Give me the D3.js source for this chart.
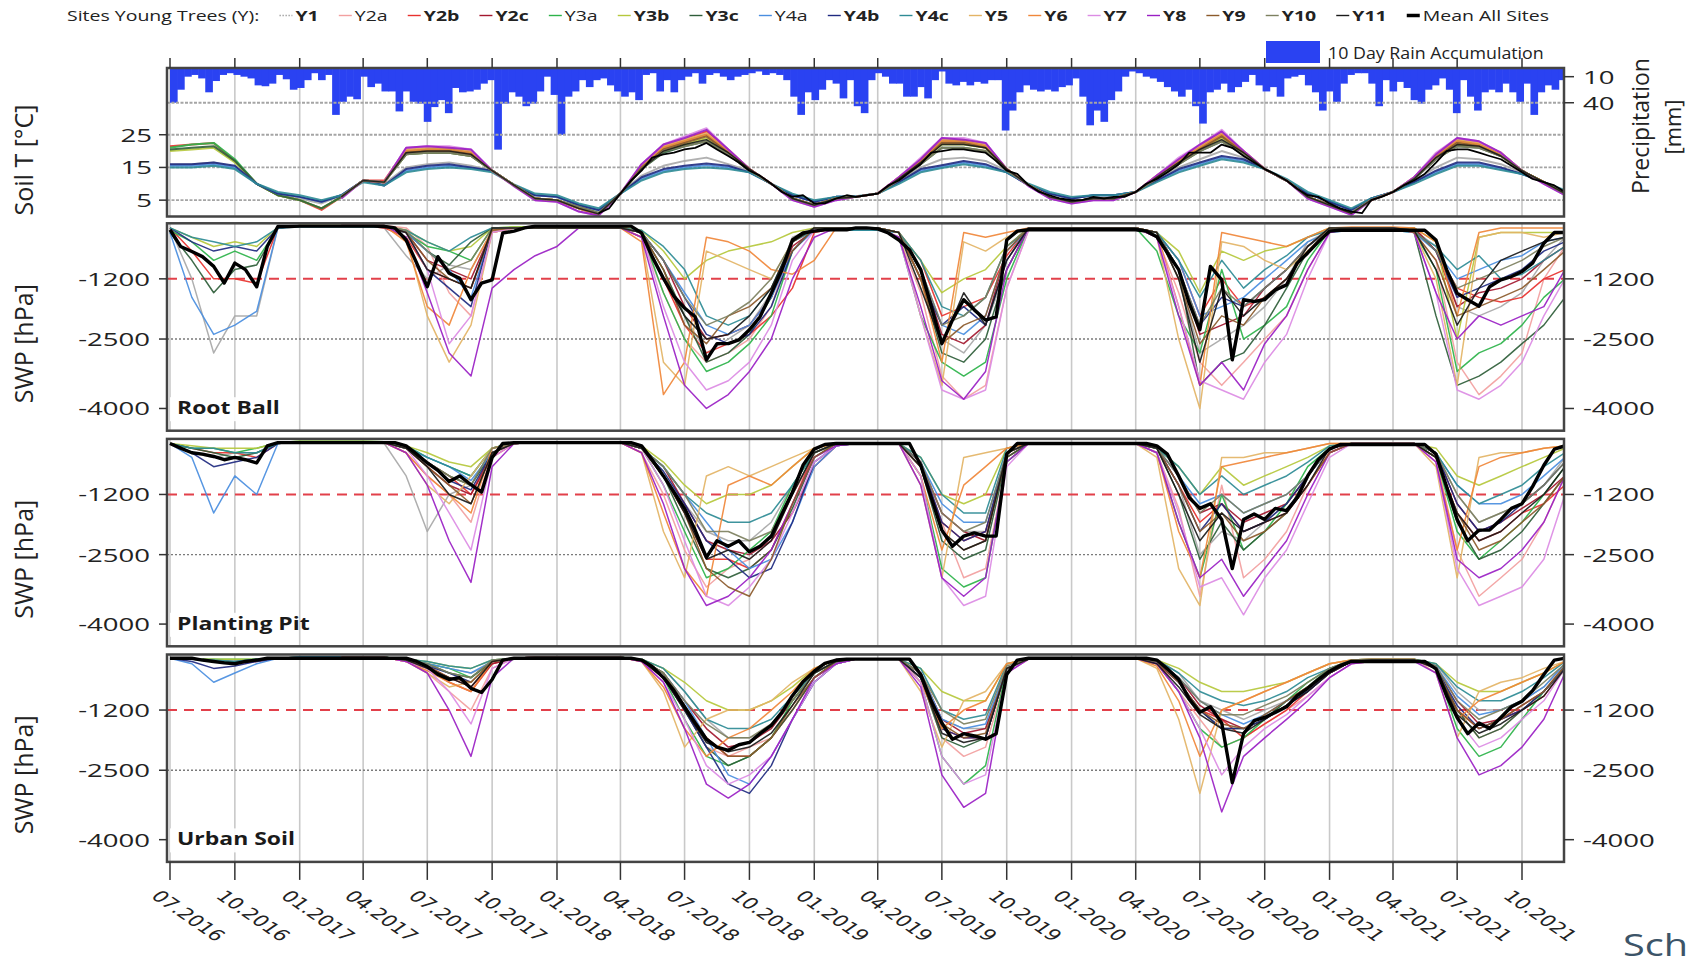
<!DOCTYPE html>
<html><head><meta charset="utf-8">
<script src="https://cdn.jsdelivr.net/npm/d3@7"></script>
<style>body{margin:0;background:#fff}svg{display:block}</style>
</head><body>
<svg id="chart" width="1690" height="968"></svg>
<script>
const _ = null;

// ---- sites -------------------------------------------------------------
const siteNames  = ['Y1','Y2a','Y2b','Y2c','Y3a','Y3b','Y3c','Y4a','Y4b','Y4c','Y5','Y6','Y7','Y8','Y9','Y10','Y11'];
const siteColors = ['#a8a8a8','#f2a0a0','#e8322e','#a3182f','#2db34a','#b5c83c','#2f5e3a','#4a8ee0','#1f2a80','#2e8b95',
                    '#e3b466','#f0873a','#dc8ce4','#9a1fc4','#8b5a2b','#7d8060','#1a1a1a'];
const legendBold = [true,false,true,true,false,true,true,false,true,true,true,true,true,true,true,true,true];

// ---- 10-day rain accumulation [mm], consecutive 10-day bins from 01.07.2016
const rain10d = [
 40,25,10,8,12,28,15,8,6,8, 10,12,20,21,18,8,13,25,23,14, 6,14,8,54,39,33,36,10,22,18,
 27,27,50,27,39,41,62,45,37,52, 23,28,27,25,18,14,94,41,28,33, 44,41,27,10,31,77,33,27,14,22,
 14,12,20,27,33,28,37,8,6,27, 14,28,14,10,6,18,8,6,10,14, 10,8,6,4,8,6,8,14,33,54,
 28,37,25,14,18,35,14,44,52,14, 6,10,18,18,33,33,22,35,14,4, 18,20,16,20,16,18,14,14,72,49,
 28,20,25,27,25,27,22,20,12,33, 66,49,62,37,27,10,4,6,10,12, 16,22,27,33,25,44,64,28,25,18,
 28,22,16,8,20,27,22,33,12,10, 8,20,28,49,27,39,18,8,6,6, 18,44,14,27,16,23,37,41,25,20,
 12,25,52,14,33,49,28,25,28,18, 28,39,18,54,28,20,25,14];

// ---- soil temperature [°C], monthly (1st of month, 07.2016 - 12.2021), one row per site
const soilTBySite = [
 [15.8,16,16.5,15,10,7,5.5,4,6.5,11,10, 15,16,16.5,15.5,14,9.6,6.5,6,3.5,1.5,7, 12.5,15.5,17,18,16,14,10,6.5,4.5,6,6, 7,11,15,17.5,18,17,14,9.6,7,5.5,6.5, 6.5,7.5,11.5,15,17.5,20,18,14.5,11,7,4.5, 2,5.5,7.5,11,15,18,17.5,16,13.5,10.5,7.5],
 [_,_,_,_,_,_,_,_,6,11,10.5, 19.5,20.5,20,19,14,9.5,5.5,5,2.5,0.5,7, 15,20.5,22.5,25,20,14.5,10,5.5,3.5,5.5,6, 7,11.5,16.5,22.5,22.5,21,14.5,9.6,6,4.5,5.5, 5.5,7.5,12,16.5,20.5,24.5,19.5,14.5,11,6,3.5, 1,5,7.5,11.5,18,22.5,21.5,18.5,14,10.5,7],
 [21.5,22,22.5,17,10,6.5,5,2,6,11,11, 20.5,21,21,20,14,9.5,5.5,5,2.5,0.5,7, 15.5,21.5,23.5,26,20.5,14.5,10,5.5,3.5,5.5,6, 7,12,17.5,23.5,23.5,22,14.5,9.5,6,4.5,5.5, 5.5,7.5,12.5,17.5,21.5,25.5,20,14.5,11,6,3.5, 1,5,7.5,12,19,23.5,22.5,19.5,14,10.5,7],
 [_,_,_,_,_,_,_,_,6,11,10.5, 20,20.5,20.5,19.5,14,9.6,5.5,5,2.5,0.5,7, 15,21,23,25,20,14.5,10,5.5,3.5,5.5,6, 7,11.5,17,23,23,21.5,14.5,9.6,6,4.5,5.5, 5.5,7.5,12,17,21,25,19.5,14.5,11,6,3.5, 1,5,7.5,11.5,18.5,23,22,19,14,10.5,7],
 [21,22,22.5,17.5,10,6.5,5,2.5,6,11,10.5, 20,20.5,20.5,19.5,14,9.6,5.5,5,2.5,0.8,7, 15,21,23,25,20,14.5,10,5.5,3.5,5.5,6, 7,11.5,17,23,23,21.5,14.5,9.6,6,4.5,5.5, 5.5,7.5,12,17,21,25,19.5,14.5,11,6,3.5, 1,5,7.5,11.5,18.5,23,22,19,14,10.5,7],
 [20,20.5,21,16.5,10,6.5,5,2.5,6,11,10.5, 19,19.5,19.5,18.5,14,9.6,5.5,5,3,1,7, 14.5,20,22,24,19.5,14.5,10,5.5,3.5,5.5,6, 7,11.5,16.5,22,22,21,14.5,9.6,6,4.5,5.5, 5.5,7.5,12,16.5,20.5,24,19.5,14.5,11,6,3.5, 1.2,5,7.5,11.5,18,22,21.5,18.5,14,10.5,7],
 [20.5,21,21.5,17,10,6.5,5,2.5,6,11,10.5, 19,19.5,19.5,18.5,14,9.6,5.5,5,3,1,7, 14.5,19.5,21.5,23,19,14,10,5.5,3.5,5.5,6, 7,11,16,21,21,20,14,9.6,6,4.5,5.5, 5.5,7.5,11.5,16,20,23,19,14.5,11,6,3.5, 1.2,5,7.5,11.5,17.5,21.5,21,18.5,14,10.5,7],
 [15.5,15.5,16,15,10,7,6,4.5,6.5,11,9.5, 14,15,15.5,14.8,14,9.6,6.5,6,3.5,2,7, 11.5,14,15,15.7,15,13.5,10,6.5,4.5,6,6, 7,10.5,14,15.2,16.5,15.5,13.5,9.6,7,5.5,6.5, 6.5,7.5,11,14,16,18,17,14.5,11,7,4.5, 2,5.5,7.5,10.5,13.5,16,16,14.6,13,10.5,7.5],
 [16,16,16.5,15.5,10,7,6,4.5,6.5,11,9.5, 14.5,15.5,16,15,14,9.6,6.5,6,3.5,2,7, 12,14.5,15.5,16.2,15.5,13.5,10,6.5,4.5,6,6, 7,10.5,14.5,15.7,17,16,13.5,9.6,7,5.5,6.5, 6.5,7.5,11,14.5,16.5,18.5,17.5,14.5,11,7,4.5, 2,5.5,7.5,10.5,14,16.5,16.5,15,13,10.5,7.5],
 [15,15,15.5,14.5,10,7.5,6.5,5,6.5,10.5,9.5, 13.5,14.5,15,14.5,13.5,9.8,7,6.5,4,2.5,7, 11,13.5,14.5,15,14.5,13.5,10,7,5,6,6.2, 7,10,13.5,14.8,16,15,13.5,10,7.5,6,6.5, 6.5,7.5,10.5,13.5,15.5,17.5,16.5,14.5,11.5,7.5,5, 2.5,5.5,7.5,10,13,15.5,15.5,14.2,13,10.5,8],
 [_,_,_,_,_,_,_,_,6,11,10.5, 20.5,21,21,20,14,9.6,5.5,5,2.5,0.5,7, 15.5,21.5,23.5,25.5,20,14.5,10,5.5,3.5,5.5,6, 7,12,17.5,23.5,23.5,22,14.5,9.6,6,4.5,5.5, 5.5,7.5,12.5,17.5,21.5,25.5,20,14.5,11,6,3.5, 1,5,7.5,12,19,23.5,22.5,19.5,14,10.5,7],
 [_,_,_,_,_,_,_,_,6,11,10.5, 20,20.5,20.5,19.5,14,9.6,5.5,5,2.5,0.5,7, 15,21,23,25,20,14.5,10,5.5,3.5,5.5,6, 7,11.5,17,23,23,21.5,14.5,9.6,6,4.5,5.5, 5.5,7.5,12,17,21,25,19.5,14.5,11,6,3.5, 1,5,7.5,11.5,18.5,23,22,19,14,10.5,7],
 [_,_,_,_,_,_,_,_,5.5,11,10.5, 21,21.5,21.5,20.5,14,9.3,5,4.5,1.5,0.3,7, 16,22,24.5,27,20.5,14.5,10,5,3,5,6, 7,12,18,24,24,22.5,14.5,9.3,5.5,4,5, 5,7.5,12.5,18,22,26.5,20,14.5,11,5.5,3, 0.5,5,7.5,12,19.5,24,23,19.5,14,10,6.5],
 [_,_,_,_,_,_,_,_,5.5,11,10.5, 21,21.5,21,20.5,14,9.3,5,4.5,1.5,0.3,7, 16,22,24,26.5,20.5,14.5,10,5,3,5,6, 7,12,17.5,24,23.5,22.5,14.5,9.3,5.5,4,5, 5,7.5,12.5,17.5,22,26,20,14.5,11,5.5,3, 0.5,5,7.5,12,19,24,23,19.5,14,10,6.5],
 [_,_,_,_,_,_,_,_,6,11,10.5, 19.5,20,20,19,14,9.6,5.5,5,2.5,0.8,7, 15,20.5,22.5,24.5,19.5,14.5,10,5.5,3.5,5.5,6, 7,11.5,16.5,22.5,22.5,21,14.5,9.6,6,4.5,5.5, 5.5,7.5,12,16.5,20.5,24.5,19.5,14.5,11,6,3.5, 1,5,7.5,11.5,18,22.5,21.5,18.5,14,10.5,7],
 [_,_,_,_,_,_,_,_,6,11,10.5, 19,19.5,19.5,18.5,14,9.6,5.5,5,3,1,7, 14.5,20,21.5,23,19,14,10,5.5,3.5,5.5,6, 7,11,16,21,21,20,14,9.6,6,4.5,5.5, 5.5,7.5,11.5,16,20,23,19,14.5,11,6,3.5, 1.2,5,7.5,11.5,17.5,21.5,21,18.5,14,10.5,7],
 [_,_,_,_,_,_,_,_,6,11,10.5, 19.5,20,20,19,14,9.6,5.5,5,2.5,0.8,7, 14.5,20,22,23.5,19.5,14.5,10,5.5,3.5,5.5,6, 7,11.5,16.5,22,22,21,14.5,9.6,6,4.5,5.5, 5.5,7.5,12,16.5,20.5,23.5,19.5,14.5,11,6,3.5, 1,5,7.5,11.5,18,22,21.5,18.5,14,10.5,7]
];
// mean soil temperature of all sites [°C], half-monthly (1st / 16th) from 01.03.2018
const meanSoilTStart = '2018-03-01';
const meanSoilT = [
 1,2.5,7,11,14,18,19,19.5,20.5,21, 22.5,20.5,18.5,16.5,14,12.5,10,7.5,6,6.5,
 4,4,5.5,6.5,6,6.5,7,9.5,11,13.5, 16,19.5,20,20.5,20.5,20,19.5,17,14,13,
 9.6,7.5,6.5,5.5,5,5,6,5.5,6,6, 7.5,10,11.5,13.5,16,19.5,19.5,19.5,22,21,
 18.5,16.5,14.5,13,11,8.5,6.5,6,4,2.5, 1.5,1,5,6,7.5,9.5,11,13,16.5,20,
 20.5,20.5,19.5,18.5,17.5,15.5,13.5,11.5,10.5,9.5,7.5];

// ---- soil water potential, suction in 100 hPa (SWP = -100 * value), monthly, one row per site
const swpRootBall = [
 [1,12,28,20,20,1,.5,.5,.5,.5,1, 7,12,9,10,1.5,1,.8,.8,.8,.8,.8, 2,10,20,28,25,22,15,3,1,1,1, 1,2,12,25,28,22,10,1,1,1,1, 1,1,2,12,28,25,22,18,12,4,1.5, 1,1,1,1.5,5,18,20,18,15,8,3],
 [_,_,_,_,_,_,_,_,.5,.5,.5, 1,5,15,20,2,1,1,1,1,1,1, 3,15,25,30,28,25,18,4,1.5,1,1, 1,3,15,33,38,35,14,1.5,1,1,1, 1,1,3,15,30,35,30,25,20,10,2, 1,1,1,2,8,30,37,33,28,12,5],
 [1,6,12,12,13,1,.5,.5,.5,.5,1, 3,10,12,14,2,1,1,1,1,1,1, 3,12,22,28,26,24,20,14,2,1,1, 1,2,8,20,18,16,7,1,1,1,1, 1,1,2,8,20,12,18,16,12,6,1.5, 1,1,1,1,6,14,16,17,16,12,10],
 [_,_,_,_,_,_,_,_,.5,.5,.5, 2,8,10,12,1.5,1,1,1,1,1,1, 2,8,18,25,24,22,16,5,1.5,1,1, 1,2,10,24,26,22,6,1,1,1,1, 1,1,2,10,24,22,20,14,10,5,1, 1,1,1,1,6,18,15,14,12,8,5],
 [1.5,4,8,6,8,1,.5,.5,.5,.5,.5, 2,5,6,8,1,.8,.8,.8,.8,.8,.8, 2,15,25,32,30,26,20,6,1,1,1, 1,3,20,30,33,30,12,1,1,1,1, 1,1,6,20,28,10,25,22,18,8,1.5, 1,1,1,2,10,32,28,26,22,16,12],
 [1,3,5,4,5,.8,.5,.5,.5,.5,.5, 1.5,4,6,5,1,.8,.8,.8,.8,.8,.8, 1.5,6,12,8,6,5,4,2,1,1,1, 1,2,8,15,12,10,5,1,1,1,1, 1,1,2,6,15,6,8,6,5,3,1, 1,1,1,1,4,25,3,2,2,2,2],
 [2,8,15,10,9,1,.6,.6,.6,.6,.6, 2,6,9,4,1,1,1,1,1,1,1, 2,10,20,30,28,24,16,4,1,1,1, 1,2,12,28,30,25,10,1,1,1,1, 1,1,2,10,35,30,28,22,14,6,1.5, 1,1,1,2,20,35,33,30,26,22,16],
 [2,16,24,22,19,1,.7,.7,.7,.7,.8, 2,6,10,16,1.5,1,1,1,1,1,1, 2,8,15,22,24,22,16,6,1.5,1.5,1.5, 1.5,2,10,22,24,20,6,1.5,1.5,1.5,1.5, 1.5,1.5,2,8,20,18,16,12,8,4,2, 1.5,1.5,1.5,2,6,12,10,8,7,4,3],
 [1,4,6,5,6,1,.6,.6,.6,.6,.6, 2,10,14,18,1,1,1,1,1,1,1, 2,8,16,24,26,24,18,6,1,1,1, 1,2,12,22,18,22,8,1,1,1,1, 1,1,2,10,22,16,18,14,10,5,1.5, 1,1,1,1.5,6,16,14,12,10,6,4],
 [1,3,4,5,4,1,.8,.8,.8,.8,.8, 1.5,4,6,3,1,1,1,1,1,1,1, 1.5,5,10,20,22,20,14,4,1.5,1.5,1.5, 1.5,2,8,18,20,16,5,1.5,1.5,1.5,1.5, 1.5,1.5,2,8,16,8,14,10,7,3,1.5, 1.5,1.5,1.5,2,5,10,7,12,11,8,5],
 [_,_,_,_,_,_,_,_,.5,.5,.5, 3,20,30,22,2,1,1,1,1,1,1, 3,30,35,6,8,10,12,4,1,1,1, 1,2,20,35,4,6,3,1,1,1,1, 1,1,3,25,40,4,5,8,10,6,1, 1,1,1,2,12,35,3,2,2,3,2],
 [_,_,_,_,_,_,_,_,.5,.5,.5, 4,18,22,10,1.5,1,1,1,1,1,1, 4,37,30,3,4,6,10,11,8,1,1, 1,2,12,30,2,3,2,1,1,1,1, 1,1,2,18,35,2,3,4,5,3,1, .8,.8,.8,1,4,20,2,1,1,1,1],
 [_,_,_,_,_,_,_,_,.5,.5,.5, 2,10,26,20,2,1,1,1,1,1,1, 2,18,30,36,34,30,22,8,1.5,1,1, 1,3,20,36,38,36,14,1.5,1,1,1, 1,1,3,18,34,36,38,30,24,12,2, 1,1,1,2,15,36,38,35,30,20,12],
 [_,_,_,_,_,_,_,_,.5,.5,.5, 3,15,28,33,14,10,7,5,1,1,1, 3,20,35,40,37,32,25,12,3,1,1, 1,3,18,34,38,32,10,1,1,1,1, 1,1,3,20,35,30,36,26,20,10,2, 1,1.5,1,2,15,25,20,22,20,18,10],
 [_,_,_,_,_,_,_,_,.5,.5,.5, 2,8,12,14,1.5,1,1,1,1,1,1, 2,10,22,26,20,18,14,6,1,1,1, 1,2,12,26,22,20,6,1,1,1,1, 1,1,2,12,26,20,22,16,12,6,1.5, 1,1,1,2,8,20,18,16,14,10,6],
 [_,_,_,_,_,_,_,_,.5,.5,.5, 1.5,6,10,8,1,1,1,1,1,1,1, 2,8,16,22,20,17,12,4,1,1,1, 1,2,10,22,20,16,5,1,1,1,1, 1,1,2,10,22,14,18,14,10,5,1, 1,1,1,1.5,6,14,12,10,8,5,3],
 [_,_,_,_,_,_,_,_,.5,.5,.5, 2,10,12,14,1,1,1,1,1,1,1, 2,12,20,25,24,20,14,4,1,1,1, 1,2,14,26,15,22,8,1,1,1,1, 1,1,2,12,30,14,20,16,12,5,1, 1,1,1,1.5,10,22,14,8,6,4,3]
];
const swpPlantingPit = [
 [1,3,4,3,3,1,.6,.6,.6,.6,1, 8,20,12,10,2,1,.8,.8,.8,.8,.8, 2,8,14,20,22,22,18,10,3,1,1, 1,1,6,16,20,20,4,1,1,1,1, 1,1,2,10,25,20,22,18,14,8,2, 1,1,1,1,3,12,18,16,14,10,4],
 [_,_,_,_,_,_,_,_,.6,.6,.8, 3,8,12,18,3,1,.8,.8,.8,.8,.8, 3,12,24,32,28,26,22,12,4,1,1, 1,1,5,18,30,28,5,1,1,1,1, 1,1,3,15,34,10,30,26,20,10,3, 1,1,1,1,4,24,34,30,26,18,8],
 [1,2,3,3,4,1,.6,.6,.6,.6,.8, 2,5,8,12,4,1,.8,.8,.8,.8,.8, 2,8,16,26,26,28,24,14,3,1,1, 1,1,6,18,22,20,4,1,1,1,1, 1,1,2,10,18,14,20,18,16,10,3, 1,1,1,1,4,16,22,20,16,14,10],
 [_,_,_,_,_,_,_,_,.6,.6,.8, 2,6,10,12,3,1,.8,.8,.8,.8,.8, 2,6,14,22,24,25,22,16,6,1.5,1, 1,1,5,16,20,22,3,1,1,1,1, 1,1,2,8,16,14,18,16,14,8,2, 1,1,1,1,3,14,20,18,15,12,8],
 [1,2,2,3,2,.8,.5,.5,.5,.5,.6, 1.5,4,6,8,2,.8,.6,.6,.6,.6,.6, 2,10,20,30,28,24,20,10,3,1,1, 1,1,8,28,32,30,5,1,1,1,1, 1,1,3,18,30,12,24,20,14,6,2, 1,1,1,1,4,20,26,22,18,12,6],
 [1,1.5,2,2,2,.8,.5,.5,.5,.5,.6, 1.5,3,5,6,2,.8,.6,.6,.6,.6,.6, 1.5,5,10,14,12,12,10,6,2,1,1, 1,1,4,12,14,12,2,1,1,1,1, 1,1,2,6,12,6,10,8,6,4,1.5, 1,1,1,1,2,8,10,8,6,4,2],
 [1,2,3,4,3,1,.6,.6,.6,.6,.8, 2,5,8,10,3,1,.8,.8,.8,.8,.8, 2,8,18,28,30,28,24,15,4,1,1, 1,1,6,22,26,24,4,1,1,1,1, 1,1,2,12,26,18,24,20,16,8,2, 1,1,1,1,4,18,26,24,20,14,8],
 [1,4,16,8,12,1,.6,.6,.6,.6,.8, 2,4,6,9,3,1,.8,.8,.8,.8,.8, 2,6,12,18,24,28,26,18,6,1.5,1, 1,1,5,14,18,18,3,1,1,1,1, 1,1,2,8,14,12,16,14,12,8,2, 1,1,1,1,3,10,14,14,12,8,4],
 [1,3,6,5,4,1,.6,.6,.6,.6,.8, 2,5,9,11,3,1,.8,.8,.8,.8,.8, 2,7,14,22,26,30,28,18,5,1.5,1, 1,1,5,18,22,20,3,1,1,1,1, 1,1,2,10,20,14,20,18,14,8,2, 1,1,1,1,3,14,20,18,14,10,5],
 [1,2,2,3,3,1,.6,.6,.6,.6,.8, 1.5,4,6,8,2,.8,.8,.8,.8,.8,.8, 2,6,12,16,18,18,16,10,3,1,1, 1,1,4,12,16,16,2,1,1,1,1, 1,1,2,6,12,8,12,10,8,5,1.5, 1,1,1,1,3,10,14,12,10,6,3],
 [_,_,_,_,_,_,_,_,.6,.6,.8, 3,10,14,8,2,1,.8,.8,.8,.8,.8, 3,20,30,8,6,8,6,4,2,1,1, 1,1,10,30,4,3,2,1,1,1,1, 1,1,4,28,36,4,4,3,3,2,1, 1,1,1,1,6,30,4,3,3,2,1.5],
 [_,_,_,_,_,_,_,_,.6,.6,.8, 3,8,12,16,2,1,.8,.8,.8,.8,.8, 3,16,28,34,10,8,10,6,2,1,1, 1,1,8,24,10,6,2,1,1,1,1, 1,1,3,20,30,6,5,4,3,2,1, 1,1,1,1,5,24,6,4,3,2,1.5],
 [_,_,_,_,_,_,_,_,.6,.6,.8, 2,8,16,24,4,1,.8,.8,.8,.8,.8, 2,10,22,34,36,32,26,16,5,1.5,1, 1,1,8,30,36,34,6,1,1,1,1, 1,1,3,16,32,30,38,30,24,14,4, 1,1,1,1,5,28,36,34,32,26,12],
 [_,_,_,_,_,_,_,_,.6,.6,.8, 3,10,22,31,6,1,.8,.8,.8,.8,.8, 3,14,28,36,34,30,24,14,4,1.5,1, 1,1,10,30,34,30,5,1,1,1,1, 1,1,3,18,30,26,34,28,22,12,3, 1,1,1,1,5,26,30,28,24,18,8],
 [_,_,_,_,_,_,_,_,.6,.6,.8, 2,6,10,14,3,1,.8,.8,.8,.8,.8, 2,8,16,28,32,34,26,14,4,1,1, 1,1,6,20,24,22,3,1,1,1,1, 1,1,2,10,20,16,22,20,16,10,3, 1,1,1,1,4,16,24,22,18,14,8],
 [_,_,_,_,_,_,_,_,.6,.6,.8, 2,5,8,10,2,1,.8,.8,.8,.8,.8, 2,6,12,20,20,22,20,12,3,1,1, 1,1,5,16,20,18,3,1,1,1,1, 1,1,2,8,16,12,16,14,12,8,2, 1,1,1,1,3,12,18,16,14,10,5],
 [_,_,_,_,_,_,_,_,.6,.6,.8, 2,6,12,14,3,1,.8,.8,.8,.8,.8, 2,8,16,26,24,26,22,12,3,1,1, 1,1,6,20,24,22,3,1,1,1,1, 1,1,2,12,22,16,20,18,16,10,2, 1,1,1,1,4,16,22,20,16,12,6]
];
const swpUrbanSoil = [
 [.8,1,1,1.5,1,.8,.6,.6,.6,.6,.6, 1,2,3,4,2,.8,.6,.6,.6,.6,.6, 1,3,8,14,18,18,16,10,4,1.5,1, 1,1,4,14,16,16,3,1,.8,.8,.8, .8,.8,1,4,10,12,14,12,10,7,4, 1.5,1.2,1.2,1.2,2,8,12,12,10,7,2],
 [_,_,_,_,_,_,_,_,.6,.6,.6, 1.5,4,8,12,3,.8,.6,.6,.6,.6,.6, 1.5,4,12,20,22,20,18,12,5,2,1, 1,1,5,18,22,20,4,1,.8,.8,.8, .8,.8,2,8,14,20,18,15,12,9,5, 2,1.5,1.5,1.5,3,12,18,16,12,8,2],
 [.8,1,1.5,2,1.5,.8,.6,.6,.6,.6,.6, 1.5,3,6,8,2,.8,.6,.6,.6,.6,.6, 1.5,5,12,18,22,22,18,12,5,2,1, 1,1,5,16,18,18,3,1,.8,.8,.8, .8,.8,2,6,12,14,18,15,12,8,4, 1.5,1.2,1.2,1.2,3,12,16,14,12,9,3],
 [_,_,_,_,_,_,_,_,.6,.6,.6, 1.2,2.5,5,7,2,.8,.6,.6,.6,.6,.6, 1.2,4,10,16,20,19,16,10,4,1.5,1, 1,1,4,14,17,16,3,1,.8,.8,.8, .8,.8,1.5,5,11,14,16,14,11,8,4, 1.5,1.2,1.2,1.2,2.5,10,15,14,11,8,3],
 [.8,1,1,1,1,.8,.6,.6,.6,.6,.6, 1,2,3,5,1.5,.8,.6,.6,.6,.6,.6, 1.2,5,14,22,24,22,18,10,4,1.5,1, 1,1,6,22,28,24,3,1,.8,.8,.8, .8,.8,2,8,16,20,18,14,10,6,3, 1.5,1.2,1.2,1.2,3,16,22,20,14,8,3],
 [.8,1,1,1,1,.8,.6,.6,.6,.6,.6, 1,1.5,2.5,3,1.2,.8,.6,.6,.6,.6,.6, 1,3,6,10,12,12,10,7,3,1.2,1, 1,1,3,8,10,10,2,1,.8,.8,.8, .8,.8,1.2,3,6,8,8,7,6,4,2, 1.2,1,1,1,2,6,8,8,6,4,1.5],
 [.8,1,1.5,1.5,1,.8,.6,.6,.6,.6,.6, 1.2,2,4,5,1.5,.8,.6,.6,.6,.6,.6, 1.2,4,12,20,24,22,18,12,5,1.5,1, 1,1,5,18,20,18,3,1,.8,.8,.8, .8,.8,1.5,6,12,16,16,14,10,7,3, 1.5,1.2,1.2,1.2,2.5,12,18,16,12,8,2.5],
 [.8,2,6,4,2,.8,.6,.6,.6,.6,.6, 1.2,2,3,4,1.5,.8,.6,.6,.6,.6,.6, 1.2,4,10,18,26,28,22,14,6,2,1, 1,1,4,14,16,15,3,1,.8,.8,.8, .8,.8,1.5,5,10,13,15,13,10,8,4, 1.5,1.2,1.2,1.2,2.5,9,13,12,10,7,2],
 [.8,1.5,3,2.5,1.5,.8,.6,.6,.6,.6,.6, 1.2,2.5,4,6,1.5,.8,.6,.6,.6,.6,.6, 1.2,5,12,20,28,30,24,14,6,2,1, 1,1,5,16,18,18,3,1,.8,.8,.8, .8,.8,1.5,6,12,16,16,14,11,8,4, 1.5,1.2,1.2,1.2,3,11,16,14,12,8,3],
 [.8,1,1.2,1.5,1,.8,.6,.6,.6,.6,.6, 1,1.5,2.5,3,1.2,.8,.6,.6,.6,.6,.6, 1,3,8,14,16,16,14,9,4,1.5,1, 1,1,3,12,14,13,2,1,.8,.8,.8, .8,.8,1.2,4,8,10,11,10,8,5,3, 1.2,1,1,1,2,7,10,10,8,5,1.5],
 [_,_,_,_,_,_,_,_,.6,.6,.6, 1.5,4,7,6,1.5,.8,.6,.6,.6,.6,.6, 1.5,8,20,14,12,12,10,6,3,1.2,1, 1,1,8,20,10,8,2,1,.8,.8,.8, .8,.8,3,14,30,12,10,8,6,4,2, 1.2,1,1,1,4,18,8,6,5,3,1.5],
 [_,_,_,_,_,_,_,_,.6,.6,.6, 1.5,3.5,6,8,1.5,.8,.6,.6,.6,.6,.6, 1.5,7,16,22,18,16,12,8,3,1.2,1, 1,1,6,16,12,10,2,1,.8,.8,.8, .8,.8,2.5,10,22,12,10,8,6,4,2, 1.2,1,1,1,3,14,10,8,6,4,1.5],
 [_,_,_,_,_,_,_,_,.6,.6,.6, 1.5,3,8,15,3,.8,.6,.6,.6,.6,.6, 1.5,6,14,24,28,26,22,14,6,2,1, 1,1,6,22,28,26,4,1,.8,.8,.8, .8,.8,2,8,16,26,20,16,13,9,5, 2,1.5,1.5,1.5,3,14,20,18,14,10,3],
 [_,_,_,_,_,_,_,_,.6,.6,.6, 1.5,4,12,22,5,.8,.6,.6,.6,.6,.6, 1.5,6,16,28,31,28,22,14,5,2,1, 1,1,7,26,33,30,4,1,.8,.8,.8, .8,.8,2,8,18,34,22,18,14,10,5, 2,1.5,1.5,1.5,4,18,26,24,20,14,4],
 [_,_,_,_,_,_,_,_,.6,.6,.6, 1.2,2.5,5,6,1.5,.8,.6,.6,.6,.6,.6, 1.2,4,11,18,22,22,18,11,5,1.5,1, 1,1,4,15,18,17,3,1,.8,.8,.8, .8,.8,1.5,6,12,15,16,13,10,7,4, 1.5,1.2,1.2,1.2,3,12,16,14,11,8,2.5],
 [_,_,_,_,_,_,_,_,.6,.6,.6, 1.2,2,4,5,1.2,.8,.6,.6,.6,.6,.6, 1.2,4,10,15,18,18,15,10,4,1.5,1, 1,1,4,12,15,14,2.5,1,.8,.8,.8, .8,.8,1.5,5,10,13,13,11,9,6,3, 1.2,1,1,1,2.5,10,14,12,10,6,2],
 [_,_,_,_,_,_,_,_,.6,.6,.6, 1.2,3,5,7,1.5,.8,.6,.6,.6,.6,.6, 1.2,5,12,19,21,20,17,11,4,1.5,1, 1,1,5,17,19,18,3,1,.8,.8,.8, .8,.8,2,7,13,16,17,14,11,8,4, 1.5,1.2,1.2,1.2,3,13,17,15,12,9,3]
];
// mean of all sites, suction in 100 hPa, half-monthly (1st / 16th) from 01.07.2016
const meanRootBall = [
 1.4,5,6.1,7.2,9.3,12.9,8.6,10,13.7,5, .7,.7,.6,.6,.6,.6,.6,.6,.6,.6,
 .7,1,3.6,8.6,13.7,7.2,10.8,11.9,16.5,12.9, 12.2,2.1,1.7,1,.6,.6,.6,.6,.6,.6,
 .6,.6,.6,.6,2.1,7.2,11.9,15.8,18.3,20.2, 29.5,26,26,25.2,23,20.2,15.1,10.1,3.6,2.1,
 1.7,1.4,1.4,1.4,1,1,1.2,2.1,3.6,5.7, 10,17.9,26,20.9,16.5,18.7,20.9,20.2,3.6,1.7,
 1.4,1.4,1.4,1.4,1.4,1.4,1.4,1.4,1.4,1.4, 1.4,1.7,2.9,6.4,10,17.3,23,9.3,12.2,29.5,
 16.5,16.9,16.5,14.4,13.3,8.6,6.4,4,1.7,1.5, 1.5,1.5,1.5,1.5,1.5,1.5,1.5,1.5,3.6,10,
 15.1,16.5,17.9,13.7,12.2,11.5,10.4,8.6,4.3,2,2];
const meanPlantingPit = [
 1,2,3,3.3,3.8,4.5,4,4.5,5.2,1.5, .8,.8,.8,.8,.8,.8,.8,.8,.8,.8,
 .8,.8,1.5,3.3,5.2,6.8,9.2,8,9.9,11.5, 4,1,.8,.8,.8,.8,.8,.8,.8,.8,
 .8,.8,.8,.8,1.5,4.5,8,11.5,15,19.7, 25.6,22,23.2,22,24.4,23.2,21,16.2,11.5,5.7,
 2.2,1.2,1,1,1,1,1,1,1,1, 5.7,12.7,19.7,23.2,21,20.3,21,21,3.3,1,
 1,1,1,1,1,1,1,1,1,1, 1,1,1.5,3.3,8,12.7,15,14,17.4,28,
 17.4,16.2,17.4,15,15.5,12.7,8,4.5,2.2,1.2, 1.2,1.2,1.2,1.2,1.2,1.2,1.2,1.2,3.3,10.3,
 17.4,22,19.7,19.7,17.4,15,14,10.3,5.7,2.2,1.5];
const meanUrbanSoil = [
 .8,.8,.8,1.2,1.5,1.8,2,1.5,1.2,.8, .8,.8,.8,.8,.8,.8,.8,.8,.8,.8,
 .8,.8,.8,1.5,2.6,4.3,5.4,5,7.3,8.2, 5.4,1.2,.8,.8,.8,.8,.8,.8,.8,.8,
 .8,.8,.8,.8,1.2,2.6,5,7.8,11.3,14.8, 18.3,20,20.7,19.5,19,17.1,15.3,12.5,8.9,5.9,
 3.6,1.9,1.2,1,1,1,1,1,1,1, 4.3,10.1,14.8,18.3,17.1,17.6,18.3,17.1,4.3,1.2,
 .8,.8,.8,.8,.8,.8,.8,.8,.8,.8, .8,.8,1.2,3.1,5.4,9.6,12.5,11.3,14.8,27.7,
 17.1,14.3,13.6,12.5,11.3,8.9,7.3,5.4,3.6,2.4, 1.5,1.5,1.5,1.5,1.5,1.5,1.5,1.5,3.1,8.9,
 13.6,17.1,14.8,16,13.6,11.3,10.1,7.8,4.3,1.2,.8];

// ---- axis ticks
const soilTTicks  = [5, 15, 25];
const rainTicks   = [10, 40];
const swpTicks    = [-1200, -2500, -4000];
const panelTitles = ['Root Ball', 'Planting Pit', 'Urban Soil'];

// ======================================================================
const svg = d3.select('#chart');
svg.append('rect').attr('width', 1690).attr('height', 968).attr('fill', '#fff');

const plotL = 167, plotR = 1564;
const x = d3.scaleTime().domain([new Date(2016, 6, 1), new Date(2021, 9, 1)]).range([170, 1522]);

const monthDates = d3.timeMonth.range(new Date(2016, 6, 1), new Date(2021, 11, 2));
const halfMonthDates = monthDates.flatMap((d, i) =>
  i < monthDates.length - 1 ? [d, new Date(d.getFullYear(), d.getMonth(), 16)] : [d]);
const rainStart = new Date(2016, 6, 1);
const quarterTicks = d3.timeMonth.range(new Date(2016, 6, 1), new Date(2021, 9, 2), 3);

const topPanel = {y0: 68, y1: 216.5};
const yT = d3.scaleLinear().domain([0, 45.4]).range([topPanel.y1, topPanel.y0]);
const yRain = d3.scaleLinear().domain([0, 171]).range([topPanel.y0, topPanel.y1]);
const swpPanels = [
  {y0: 223.3, y1: 430.7, data: swpRootBall, mean: meanRootBall},
  {y0: 438.9, y1: 646.3, data: swpPlantingPit, mean: meanPlantingPit},
  {y0: 654.5, y1: 861.9, data: swpUrbanSoil, mean: meanUrbanSoil}
];
swpPanels.forEach((p, i) => {
  p.title = panelTitles[i];
  p.y = d3.scaleLinear().domain([-4480, 0]).range([p.y1, p.y0]);
});

const defs = svg.append('defs');
function clip(id, y0, y1) {
  defs.append('clipPath').attr('id', id).append('rect')
    .attr('x', plotL).attr('y', y0).attr('width', plotR - plotL).attr('height', y1 - y0);
  return `url(#${id})`;
}

// text with the wide horizontal proportions of the figure
function stext(parent, px, py, str, o) {
  return parent.append('text')
    .attr('transform', `translate(${px},${py}) scale(${o.sx || 1},1)`)
    .attr('font-family', o.font || "'Open Sans', sans-serif")
    .attr('font-size', o.size)
    .attr('font-weight', o.weight || 400)
    .attr('text-anchor', o.anchor || 'start')
    .attr('fill', o.fill || '#222')
    .text(str);
}

function vGrid(g, y0, y1) {
  g.selectAll(null).data(quarterTicks).join('line')
    .attr('x1', d => x(d)).attr('x2', d => x(d)).attr('y1', y0).attr('y2', y1)
    .attr('stroke', '#c9c9c9').attr('stroke-width', 1.6);
}

const TICKFONT = {size: 19, sx: 1.45, fill: '#222'};

// ---------------- top panel: rain + soil temperature ----------------
{
  const g = svg.append('g');
  vGrid(g, topPanel.y0, topPanel.y1);
  const cp = clip('clipTop', topPanel.y0, topPanel.y1);
  g.append('g').attr('clip-path', cp).selectAll('rect').data(rain10d).join('rect')
    .attr('x', (d, i) => x(d3.timeDay.offset(rainStart, 10 * i)))
    .attr('width', (d, i) => x(d3.timeDay.offset(rainStart, 10 * i + 10)) - x(d3.timeDay.offset(rainStart, 10 * i)) + 0.6)
    .attr('y', topPanel.y0)
    .attr('height', d => yRain(d) - topPanel.y0)
    .attr('fill', '#2a42f2');

  const hl = g.append('g');
  soilTTicks.forEach(t => hl.append('line').attr('x1', plotL).attr('x2', plotR).attr('y1', yT(t)).attr('y2', yT(t))
    .attr('stroke', '#a5a5a5').attr('stroke-width', 1.8).attr('stroke-dasharray', '3,1.5'));
  hl.append('line').attr('x1', plotL).attr('x2', plotR).attr('y1', yRain(40)).attr('y2', yRain(40))
    .attr('stroke', '#a5a5a5').attr('stroke-width', 1.8).attr('stroke-dasharray', '3,1.5');

  const lineT = d3.line().defined(d => d[1] != null).x(d => x(d[0])).y(d => yT(d[1]));
  const lg = g.append('g').attr('clip-path', cp);
  soilTBySite.forEach((row, si) => {
    lg.append('path').attr('d', lineT(row.map((v, i) => [monthDates[i], v])))
      .attr('fill', 'none').attr('stroke', siteColors[si]).attr('stroke-width', si === 16 ? 1.4 : 2)
      .attr('stroke-linejoin', 'round').attr('opacity', 0.9);
  });
  const mStart = halfMonthDates.findIndex(d => +d === +d3.timeParse('%Y-%m-%d')(meanSoilTStart));
  lg.append('path').attr('d', lineT(meanSoilT.map((v, i) => [halfMonthDates[mStart + i], v])))
    .attr('fill', 'none').attr('stroke', '#000').attr('stroke-width', 1.8).attr('stroke-linejoin', 'round');

  g.append('rect').attr('x', plotL).attr('y', topPanel.y0).attr('width', plotR - plotL).attr('height', topPanel.y1 - topPanel.y0)
    .attr('fill', 'none').attr('stroke', '#444').attr('stroke-width', 2.5);

  soilTTicks.forEach(t => {
    g.append('line').attr('x1', plotL - 8).attr('x2', plotL).attr('y1', yT(t)).attr('y2', yT(t)).attr('stroke', '#333').attr('stroke-width', 1.5);
    stext(g, 152, yT(t) + 7, String(t), {...TICKFONT, anchor: 'end'});
  });
  rainTicks.forEach(t => {
    g.append('line').attr('x1', plotR).attr('x2', plotR + 10).attr('y1', yRain(t)).attr('y2', yRain(t)).attr('stroke', '#333').attr('stroke-width', 1.5);
    stext(g, 1583, yRain(t) + 7, String(t), {...TICKFONT});
  });
  g.selectAll(null).data(quarterTicks).join('line')
    .attr('x1', d => x(d)).attr('x2', d => x(d)).attr('y1', topPanel.y0 - 10).attr('y2', topPanel.y0)
    .attr('stroke', '#333').attr('stroke-width', 1.5);

  g.append('text').attr('transform', 'translate(33,160) rotate(-90)')
    .attr('text-anchor', 'middle').attr('font-family', "'Open Sans', sans-serif").attr('font-size', 25).attr('fill', '#222')
    .text('Soil T [°C]');
  g.append('text').attr('transform', 'translate(1649,126) rotate(-90)')
    .attr('text-anchor', 'middle').attr('font-family', "'Open Sans', sans-serif").attr('font-size', 23).attr('fill', '#222')
    .text('Precipitation');
  g.append('text').attr('transform', 'translate(1681,127) rotate(-90)')
    .attr('text-anchor', 'middle').attr('font-family', "'Open Sans', sans-serif").attr('font-size', 22).attr('fill', '#222')
    .text('[mm]');
}

// ---------------- soil water potential panels ----------------
swpPanels.forEach((p, pi) => {
  const g = svg.append('g');
  vGrid(g, p.y0, p.y1);
  g.append('line').attr('x1', plotL).attr('x2', plotR).attr('y1', p.y(-2500)).attr('y2', p.y(-2500))
    .attr('stroke', '#7a7a7a').attr('stroke-width', 1.4).attr('stroke-dasharray', '2,2');
  g.append('line').attr('x1', plotL).attr('x2', plotR).attr('y1', p.y(-1200)).attr('y2', p.y(-1200))
    .attr('stroke', '#e2404a').attr('stroke-width', 2).attr('stroke-dasharray', '10,7');

  const cp = clip('clipSwp' + pi, p.y0, p.y1);
  const line = d3.line().defined(d => d[1] != null).x(d => x(d[0])).y(d => p.y(-100 * d[1]));
  const lg = g.append('g').attr('clip-path', cp);
  p.data.forEach((row, si) => {
    lg.append('path').attr('d', line(row.map((v, i) => [monthDates[i], v])))
      .attr('fill', 'none').attr('stroke', siteColors[si]).attr('stroke-width', 1.5)
      .attr('stroke-linejoin', 'round').attr('opacity', 0.92);
  });
  lg.append('path').attr('d', line(p.mean.map((v, i) => [halfMonthDates[i], v])))
    .attr('fill', 'none').attr('stroke', '#000').attr('stroke-width', 3.4).attr('stroke-linejoin', 'round');

  const lx = 177, ly = p.y1 - 16.5;
  g.append('rect').attr('x', plotL + 3).attr('y', ly - 17).attr('width', 118).attr('height', 24).attr('fill', '#fff').attr('opacity', 0.92);
  stext(g, lx, ly, p.title, {size: 17, sx: 1.35, weight: 700, fill: '#1a1a1a'});

  g.append('rect').attr('x', plotL).attr('y', p.y0).attr('width', plotR - plotL).attr('height', p.y1 - p.y0)
    .attr('fill', 'none').attr('stroke', '#444').attr('stroke-width', 2.5);

  swpTicks.forEach(t => {
    g.append('line').attr('x1', plotL - 8).attr('x2', plotL).attr('y1', p.y(t)).attr('y2', p.y(t)).attr('stroke', '#333').attr('stroke-width', 1.5);
    g.append('line').attr('x1', plotR).attr('x2', plotR + 10).attr('y1', p.y(t)).attr('y2', p.y(t)).attr('stroke', '#333').attr('stroke-width', 1.5);
    stext(g, 150, p.y(t) + 7, String(t), {...TICKFONT, anchor: 'end'});
    stext(g, 1583, p.y(t) + 7, String(t), {...TICKFONT});
  });
  g.append('text').attr('transform', `translate(33,${p.y(-2600)}) rotate(-90)`)
    .attr('text-anchor', 'middle').attr('font-family', "'Open Sans', sans-serif").attr('font-size', 25).attr('fill', '#222')
    .text('SWP [hPa]');
});

// ---------------- bottom time axis ----------------
{
  const g = svg.append('g');
  const yb = swpPanels[2].y1;
  g.selectAll(null).data(quarterTicks).join('line')
    .attr('x1', d => x(d)).attr('x2', d => x(d)).attr('y1', yb).attr('y2', yb + 18)
    .attr('stroke', '#333').attr('stroke-width', 1.5);
  const fmt = d3.timeFormat('%m.%Y');
  g.selectAll(null).data(quarterTicks).join('text')
    .attr('transform', d => `translate(${x(d) - 20},${yb + 35}) scale(1.45,1) rotate(45)`)
    .attr('font-family', "'DejaVu Sans', sans-serif").attr('font-size', 15.5).attr('fill', '#222')
    .text(fmt);
}

// ---------------- legend ----------------
{
  const g = svg.append('g');
  const LSX = 1.3, LSIZE = 15;
  const title = stext(g, 0, 0, 'Sites Young Trees (Y):', {size: LSIZE, sx: LSX, fill: '#222'});
  const items = siteNames.map((n, i) => ({name: n, color: siteColors[i], bold: legendBold[i], w: 1.4}))
    .concat([{name: 'Mean All Sites', color: '#000', bold: false, w: 3.5}]);
  const lineLen = 13, pad = 3;
  const measure = items.map(it => {
    const t = stext(g, 0, 0, it.name, {size: LSIZE, sx: LSX, weight: it.bold ? 700 : 400});
    const w = t.node().getComputedTextLength() * LSX; t.remove(); return w;
  });
  const titleW = title.node().getComputedTextLength() * LSX;
  title.remove();
  const startX = 67, endX = 1549, baseY = 21;
  const used = titleW + d3.sum(measure) + items.length * (lineLen + pad);
  const gap = (endX - startX - used) / items.length;
  stext(g, startX, baseY, 'Sites Young Trees (Y):', {size: LSIZE, sx: LSX, fill: '#222'});
  let cx = startX + titleW + gap;
  items.forEach((it, i) => {
    g.append('line').attr('x1', cx).attr('x2', cx + lineLen).attr('y1', baseY - 5.5).attr('y2', baseY - 5.5)
      .attr('stroke', it.color).attr('stroke-width', it.w)
      .attr('stroke-dasharray', it.name === 'Y1' ? '1.5,1.5' : null);
    stext(g, cx + lineLen + pad, baseY, it.name, {size: LSIZE, sx: LSX, weight: it.bold ? 700 : 400, fill: '#222'});
    cx += lineLen + pad + measure[i] + gap;
  });

  g.append('rect').attr('x', 1266).attr('y', 41).attr('width', 54).attr('height', 22).attr('fill', '#2a42f2');
  stext(g, 1328, 59, '10 Day Rain Accumulation', {size: 16.5, sx: 1.08, fill: '#222'});
}

// slide footer fragment
svg.append('text').attr('transform', 'translate(1623,956) scale(1.28,1)')
  .attr('font-family', "'Open Sans', sans-serif").attr('font-size', 31).attr('fill', '#3c5468').text('Sch');
</script>
</body></html>
